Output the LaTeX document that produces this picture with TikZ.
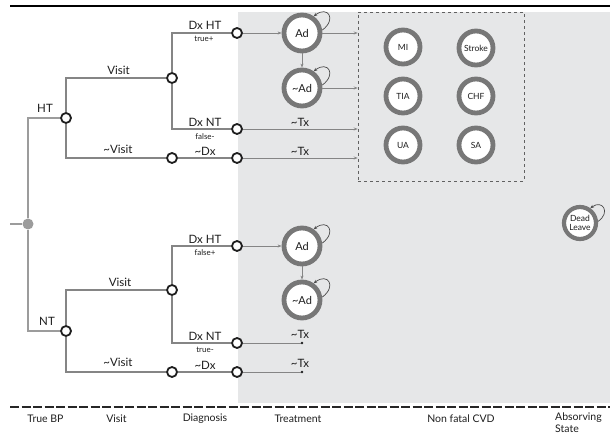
\documentclass[tikz,border=0pt]{standalone}
\usepackage{fontspec}
\setmainfont{Lato}
\usetikzlibrary{arrows.meta}
\definecolor{bg}{HTML}{E6E7E8}
\definecolor{treeline}{HTML}{858585}
\definecolor{ring}{HTML}{777777}
\definecolor{dark}{HTML}{1E1E1E}
\definecolor{rootgray}{HTML}{9C9C9C}
\begin{document}
\begin{tikzpicture}[x=1pt,y=-1pt,
  lbl/.style={font=\fontsize{11.5}{13}\selectfont, text=dark, inner sep=0},
  sm/.style={font=\fontsize{8}{9}\selectfont, text=dark, inner sep=0},
  foot/.style={font=\fontsize{10.5}{12}\selectfont, text=dark, inner sep=0},
  chance/.style={circle, draw=dark, line width=1.8pt, fill=white, minimum size=10pt, inner sep=0},
  state/.style={circle, draw=ring, line width=4.8pt, fill=white, minimum size=36pt, inner sep=0, font=\fontsize{11}{12}\selectfont, text=dark},
  cvd/.style={circle, draw=ring, line width=4.8pt, fill=white, minimum size=34pt, inner sep=0, font=\fontsize{8.5}{9}\selectfont, text=dark},
  dotn/.style={circle, fill=dark, minimum size=2.6pt, inner sep=0},
  branch/.style={draw=treeline, line width=1.2pt},
  thin/.style={draw=treeline, line width=0.8pt},
  flow/.style={draw=treeline, line width=0.8pt, -{Stealth[length=4pt,width=3pt]}},
  loopa/.style={draw=dark!80, line width=0.7pt, -{Stealth[length=3.5pt,width=3pt]}}
]
\useasboundingbox (0,0) rectangle (610,435);
% background
\fill[bg] (238,12) rectangle (610,403);
\draw[black, line width=2.5pt] (10,6) -- (610,6);
\draw[black!85, line width=2.8pt, dash pattern=on 9pt off 2.5pt] (10,407) -- (610,407);

% dashed box
\node[draw=dark!70, dashed, line width=0.6pt, minimum width=166pt, minimum height=169pt, inner sep=0] (box) at (441,96.5) {};

% root
\coordinate (stub) at (10,224);
\node[circle, fill=rootgray, minimum size=11pt, inner sep=0] (root) at (28,224) {};
\node[chance] (ht) at (66,118) {};
\node[chance] (nt) at (66,331) {};
\draw[draw=rootgray, line width=2.2pt] (stub) -- (root);
\draw[draw=rootgray, line width=2.2pt] (root) |- (ht);
\draw[draw=rootgray, line width=2.2pt] (root) |- (nt);
\node[lbl] at (45,108) {HT};
\node[lbl] at (47,321) {NT};

% HT subtree
\node[chance] (v1) at (172,78) {};
\node[chance] (nv1) at (172,158) {};
\node[chance] (dht1) at (237,33) {};
\node[chance] (dnt1) at (237,129) {};
\node[chance] (nd1) at (237,158) {};
\draw[branch] (ht) |- (v1);
\draw[branch] (ht) |- (nv1);
\draw[branch] (v1) |- (dht1);
\draw[branch] (v1) |- (dnt1);
\draw[branch] (nv1) -- (nd1);
\node[lbl] at (118.5,70) {Visit};
\node[lbl] at (118,149) {\textasciitilde Visit};
\node[lbl] at (205,25) {Dx HT};
\node[sm] at (204,39) {true+};
\node[lbl] at (205,122) {Dx NT};
\node[sm] at (205,137) {false-};
\node[lbl] at (205,151) {\textasciitilde Dx};

% HT treatment
\node[state] (ad1) at (302,33) {Ad};
\node[state] (nad1) at (302,88) {\textasciitilde Ad};
\draw[flow] (dht1) -- (ad1);
\draw[flow] (ad1) -- (nad1);
\draw[flow] (ad1) -- (box.west |- ad1);
\draw[flow] (nad1) -- (box.west |- nad1);
\draw[flow] (dnt1) -- (box.west |- dnt1);
\draw[flow] (nd1) -- (box.west |- nd1);
\node[lbl] at (300,122) {\textasciitilde Tx};
\node[lbl] at (300,151) {\textasciitilde Tx};
\draw[loopa] (ad1.8) .. controls +(15,-11) and +(14,-11) .. (ad1.55);
\draw[loopa] (nad1.8) .. controls +(15,-11) and +(14,-11) .. (nad1.55);

% CVD states
\node[cvd] (mi) at (403,47) {MI};
\node[cvd] (stroke) at (476,48) {Stroke};
\node[cvd] (tia) at (403,96) {TIA};
\node[cvd] (chf) at (476,96) {CHF};
\node[cvd] (ua) at (403,145) {UA};
\node[cvd] (sa) at (476,145) {SA};

% Dead
\node[circle, draw=ring, line width=4.2pt, fill=white, minimum size=32pt, inner sep=0, align=center, font=\fontsize{8.5}{9.5}\selectfont, text=dark] (dead) at (580,223) {Dead\\Leave};
\draw[loopa] (dead.5) .. controls +(13,-9) and +(12,-9) .. (dead.55);

% NT subtree
\node[chance] (v2) at (172,290) {};
\node[chance] (nv2) at (172,372) {};
\node[chance] (dht2) at (237,246) {};
\node[chance] (dnt2) at (237,343) {};
\node[chance] (nd2) at (237,372) {};
\draw[branch] (nt) |- (v2);
\draw[branch] (nt) |- (nv2);
\draw[branch] (v2) |- (dht2);
\draw[branch] (v2) |- (dnt2);
\draw[branch] (nv2) -- (nd2);
\node[lbl] at (120,282) {Visit};
\node[lbl] at (118,362) {\textasciitilde Visit};
\node[lbl] at (205,239) {Dx HT};
\node[sm] at (205,253) {false+};
\node[lbl] at (205,336) {Dx NT};
\node[sm] at (205,350) {true-};
\node[lbl] at (205,365) {\textasciitilde Dx};

% NT treatment
\node[state] (ad2) at (302,246) {Ad};
\node[state] (nad2) at (302,300) {\textasciitilde Ad};
\draw[flow] (dht2) -- (ad2);
\draw[flow] (ad2) -- (nad2);
\draw[loopa] (ad2.8) .. controls +(15,-11) and +(14,-11) .. (ad2.55);
\draw[loopa] (nad2.8) .. controls +(15,-11) and +(14,-11) .. (nad2.55);
\node[dotn] (t3) at (302,343) {};
\node[dotn] (t4) at (302,372) {};
\draw[thin] (dnt2) -- (t3);
\draw[thin] (nd2) -- (t4);
\node[lbl] at (300,334) {\textasciitilde Tx};
\node[lbl] at (300,363) {\textasciitilde Tx};

% footer
\node[foot] at (45.5,419) {True BP};
\node[foot] at (116.5,419) {Visit};
\node[foot] at (205,419) {Diagnosis};
\node[foot] at (298,419) {Treatment};
\node[foot] at (461,419) {Non fatal CVD};
\node[foot, anchor=west] at (555,418) {Absorving};
\node[foot, anchor=west] at (555,429) {State};
\end{tikzpicture}
\end{document}
